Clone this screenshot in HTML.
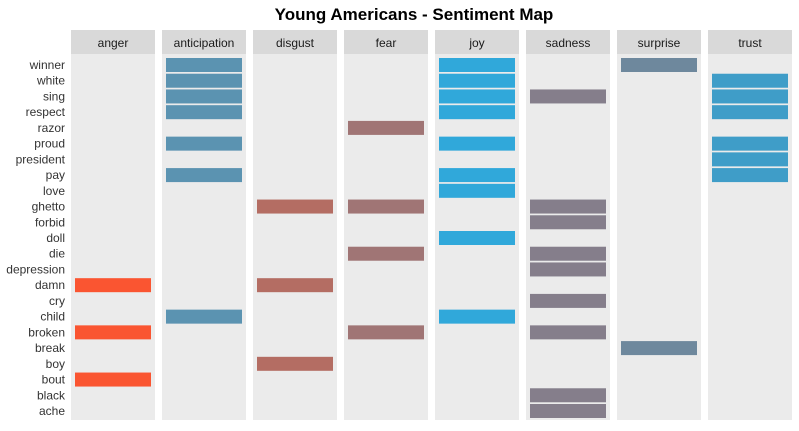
<!DOCTYPE html>
<html><head><meta charset="utf-8"><style>
html,body{margin:0;padding:0;background:#fff;width:799px;height:431px;overflow:hidden}
text{font-family:"Liberation Sans","DejaVu Sans",sans-serif}
</style></head><body>
<svg id="chart" width="799" height="431"></svg>
<script>
const words=["winner","white","sing","respect","razor","proud","president","pay","love","ghetto","forbid","doll","die","depression","damn","cry","child","broken","break","boy","bout","black","ache"];
const sentiments=["anger","anticipation","disgust","fear","joy","sadness","surprise","trust"];
const colors=["#fa5531","#5b93b1","#b46d63","#a07575","#30a8da","#857e8b","#6e889d","#3f9dc8"];
const angerWords=["damn","broken","bout"];
const anticipationWords=["winner","white","sing","respect","proud","pay","child"];
const disgustWords=["ghetto","damn","boy"];
const fearWords=["razor","ghetto","die","broken"];
const joyWords=["winner","white","sing","respect","proud","pay","love","doll","child"];
const sadnessWords=["sing","ghetto","forbid","die","depression","cry","broken","black","ache"];
const surpriseWords=["winner","break"];
const trustWords=["white","sing","respect","proud","president","pay"];
const members=[angerWords,anticipationWords,disgustWords,fearWords,joyWords,sadnessWords,surpriseWords,trustWords];

const NS="http://www.w3.org/2000/svg";
const svgEl=document.getElementById('chart');
function mk(t,a,p){const e=document.createElementNS(NS,t);for(const k in a)e.setAttribute(k,a[k]);(p||svgEl).appendChild(e);return e;}
const panelX=i=>71+i*91, panelW=84, panelTop=54, panelBottom=420;
const rowY=j=>65+j*(411-65)/(words.length-1);

const title=mk('text',{x:414,y:20,'text-anchor':'middle','font-size':17,'font-weight':'600',fill:'#000'});
title.textContent='Young Americans - Sentiment Map';



sentiments.forEach((s,i)=>{
  const x=panelX(i);
  const g=mk('g',{});
  
  
  mk('rect',{x:x,y:30,width:panelW,height:24,fill:'#d9d9d9'},g);
  const h=mk('text',{x:x+panelW/2,y:47,'text-anchor':'middle','font-size':12,fill:'#1a1a1a'},g);
  h.textContent=s;
  
  
  mk('rect',{x:x,y:panelTop,width:panelW,height:panelBottom-panelTop,fill:'#ebebeb'},g);
  members[i].forEach(w=>{
    const j=words.indexOf(w);
    const b=mk('rect',{x:x+4,y:rowY(j)-7,width:panelW-8,height:14,fill:colors[i]},g);
    
    
  });
});
words.forEach((w,j)=>{
  const t=mk('text',{x:65,y:rowY(j)+4,'text-anchor':'end','font-size':12,fill:'#333'});
  t.textContent=w;
  
  
});
</script>
</body></html>
